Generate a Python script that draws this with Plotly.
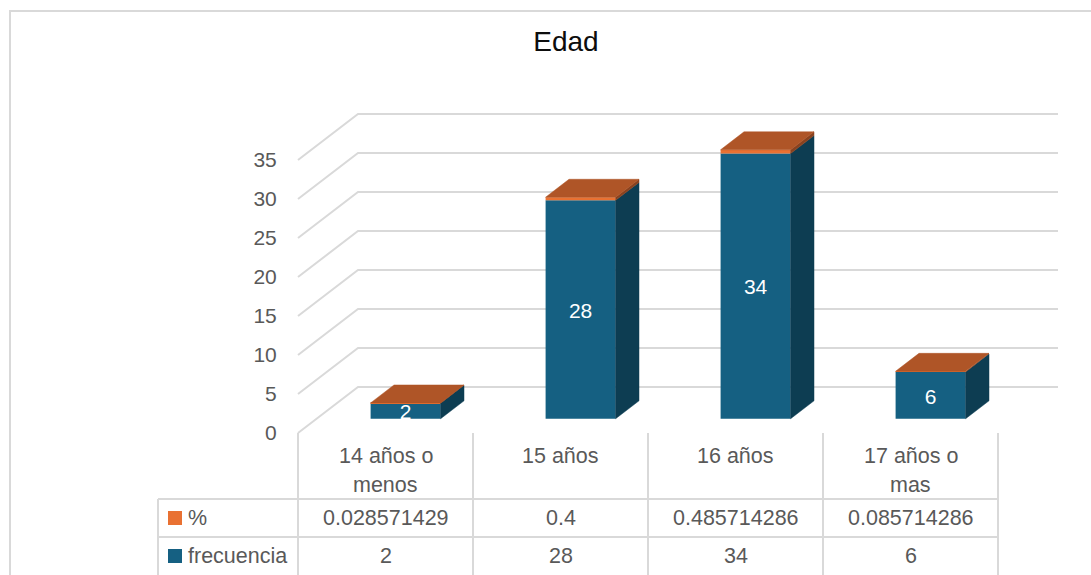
import textwrap
import plotly.graph_objects as go

# ---- data -------------------------------------------------------------
categorias = ["14 años o menos", "15 años", "16 años", "17 años o mas"]
frecuencia = [2, 28, 34, 6]
porcentaje = [0.028571429, 0.4, 0.485714286, 0.085714286]
y_ticks = [0, 5, 10, 15, 20, 25, 30, 35]
serie_pct = "%"
serie_freq = "frecuencia"
titulo = "Edad"

# ---- frame (pixels) -----------------------------------------------------
W, H = 1091, 575
X0, CAT = 298, 175        # front-left corner of the first category, px per category
Y0, UNIT = 433, 7.8       # value 0 on the front plane, px per value unit
X_RANGE = [-X0 / CAT, (W - X0) / CAT]
Y_RANGE = [(Y0 - H) / UNIT, Y0 / UNIT]

DX, DY = 60 / CAT, 46 / UNIT   # depth of the 3-D box in data units
F0, F1 = 0.31, 0.70            # depth span occupied by the columns
BAR_W = 0.4
LABEL_DROP = 3 / UNIT          # optical centring of the digits

FONT = "Liberation Sans"
GREY_TXT = "#595959"
GRID = "#d9d9d9"
BLUE, BLUE_SIDE = "#156082", "#0d3d52"
ORANGE, ORANGE_TOP, ORANGE_SIDE = "#e97132", "#af5527", "#8a421f"


def px(p):
    return p / W


def py(p):
    return 1 - p / H


def xd(p):
    return (p - X0) / CAT


n = len(categorias)
xc = [i + 0.5 + F0 * DX + 1.5 / CAT for i in range(n)]
base0 = F0 * DY
ddx, ddy = (F1 - F0) * DX, (F1 - F0) * DY

fig = go.Figure()

# front faces of the stacked columns
fig.add_trace(go.Bar(x=xc, y=frecuencia, base=[base0] * n, width=BAR_W,
                     marker=dict(color=BLUE, line_width=0), name=serie_freq))
fig.add_trace(go.Bar(x=xc, y=porcentaje, base=[base0 + f for f in frecuencia], width=BAR_W,
                     marker=dict(color=ORANGE, line_width=0), name=serie_pct))


def side(xs, b, t):
    r = xs + BAR_W / 2
    return ([r, r + ddx, r + ddx, r, r, None],
            [base0 + b, base0 + b + ddy, base0 + t + ddy, base0 + t, base0 + b, None])


def top(xs, t):
    l, r = xs - BAR_W / 2, xs + BAR_W / 2
    yy = base0 + t
    return ([l, r, r + ddx, l + ddx, l, None], [yy, yy, yy + ddy, yy + ddy, yy, None])


def poly_trace(pieces, color):
    xs, ys = [], []
    for a, b in pieces:
        xs += a
        ys += b
    return go.Scatter(x=xs, y=ys, mode="lines", fill="toself", fillcolor=color,
                      line=dict(color=color, width=0.5), hoverinfo="skip", showlegend=False)


fig.add_trace(poly_trace([side(xc[i], 0, frecuencia[i]) for i in range(n)], BLUE_SIDE))
fig.add_trace(poly_trace([side(xc[i], frecuencia[i], frecuencia[i] + porcentaje[i]) for i in range(n)],
                         ORANGE_SIDE))
fig.add_trace(poly_trace([top(xc[i], frecuencia[i] + porcentaje[i]) for i in range(n)], ORANGE_TOP))

# data labels
fig.add_trace(go.Scatter(x=xc, y=[base0 + f / 2 - LABEL_DROP for f in frecuencia], mode="text",
                         text=[str(f) for f in frecuencia],
                         textfont=dict(family=FONT, size=21, color="white"),
                         hoverinfo="skip", showlegend=False))

shapes = []
# walls: gridlines on the side wall and the back wall
for v in y_ticks:
    shapes.append(dict(type="path", xref="x", yref="y", layer="below",
                       path=f"M 0,{v} L {DX},{v + DY} L {n + DX},{v + DY}",
                       line=dict(color=GRID, width=2)))

# chart area border
shapes.append(dict(type="rect", xref="paper", yref="paper",
                   x0=px(10), x1=px(W + 20), y0=py(H + 20), y1=py(11),
                   line=dict(color=GRID, width=2)))

# data table
ROW1, ROW2, TBL_L = 499, 537, 158
for k in range(n + 1):
    shapes.append(dict(type="line", xref="x", yref="paper", x0=k, x1=k,
                       y0=py(Y0), y1=py(H + 10), line=dict(color=GRID, width=2)))
shapes.append(dict(type="line", xref="x", yref="paper", x0=xd(TBL_L), x1=xd(TBL_L),
                   y0=py(ROW1), y1=py(H + 10), line=dict(color=GRID, width=2)))
for r in (ROW1, ROW2):
    shapes.append(dict(type="line", xref="x", yref="paper", x0=xd(TBL_L), x1=n,
                       y0=py(r), y1=py(r), line=dict(color=GRID, width=2)))
# legend keys
for yc, col in ((518, ORANGE), (556, BLUE)):
    shapes.append(dict(type="rect", xref="x", yref="paper", x0=xd(168), x1=xd(182),
                       y0=py(yc + 7), y1=py(yc - 7), line_width=0, fillcolor=col))

annotations = []
tfont = dict(family=FONT, size=21.5, color=GREY_TXT)
for i, cat in enumerate(categorias):
    for k, line in enumerate(textwrap.wrap(cat, width=10)):
        annotations.append(dict(x=i + 0.5, y=py(456 + 29 * k), xref="x", yref="paper",
                                text=line, showarrow=False, font=tfont,
                                xanchor="center", yanchor="middle"))


def fmt(v):
    return f"{v:.9f}".rstrip("0").rstrip(".")


for i in range(n):
    annotations.append(dict(x=i + 0.5, y=py(518), xref="x", yref="paper", text=fmt(porcentaje[i]),
                            showarrow=False, font=tfont, xanchor="center", yanchor="middle"))
    annotations.append(dict(x=i + 0.5, y=py(556), xref="x", yref="paper", text=str(frecuencia[i]),
                            showarrow=False, font=tfont, xanchor="center", yanchor="middle"))
for yc, name in ((518, serie_pct), (556, serie_freq)):
    annotations.append(dict(x=xd(186), y=py(yc), xref="x", yref="paper", text=name,
                            showarrow=False, font=tfont, xanchor="left", yanchor="middle"))

fig.update_layout(
    width=W, height=H,
    margin=dict(l=0, r=0, t=0, b=0),
    paper_bgcolor="white", plot_bgcolor="white",
    barmode="overlay", showlegend=False,
    title=dict(text=titulo, x=px(566), y=py(41), xanchor="center", yanchor="middle",
               font=dict(family=FONT, size=28, color="#0d0d0d")),
    xaxis=dict(range=X_RANGE, visible=False, fixedrange=True),
    yaxis=dict(range=Y_RANGE, tickvals=y_ticks, ticks="outside", ticklen=17,
               tickcolor="rgba(0,0,0,0)", showgrid=False, zeroline=False, showline=False,
               anchor="free", position=px(X0), fixedrange=True,
               tickfont=dict(family=FONT, size=21, color=GREY_TXT)),
    shapes=shapes, annotations=annotations,
)

fig.write_html("out.html")
